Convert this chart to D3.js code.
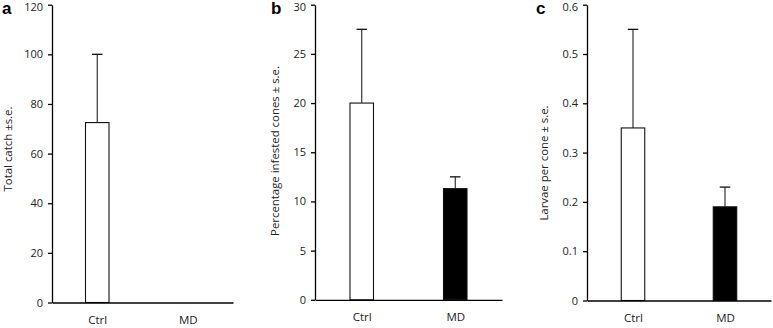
<!DOCTYPE html>
<html>
<head>
<meta charset="utf-8">
<script src="https://cdn.jsdelivr.net/npm/d3@7"></script>
<style>
  body { margin: 0; background: #fff; }
  svg { display: block; }
  .tick text { font-family: "Open Sans", sans-serif; font-size: 11px; fill: #222; }
  .x-axis .tick text { font-size: 11.5px; }
  .ylab { font-family: "Open Sans", sans-serif; font-size: 11.4px; fill: #222; }
  .plab { font-family: "Liberation Sans", Arial, sans-serif; font-size: 17px; font-weight: bold; fill: #000; }
</style>
</head>
<body>
<div id="chart"></div>
<script>
var categories = ["Ctrl", "MD"];

// panel a: total catch
var catchMean = [72.5, null];
var catchSE = [27.5, null];
var catchTicks = [0, 20, 40, 60, 80, 100, 120];

// panel b: percentage infested cones
var infestedMean = [20, 11.3];
var infestedSE = [7.5, 1.2];
var infestedTicks = [0, 5, 10, 15, 20, 25, 30];

// panel c: larvae per cone
var larvaeMean = [0.35, 0.19];
var larvaeSE = [0.2, 0.04];
var larvaeTicks = [0, 0.1, 0.2, 0.3, 0.4, 0.5, 0.6];

var fills = ["#fff", "#000"];

var width = 773, height = 328;
var svg = d3.select("#chart").append("svg")
    .attr("width", width)
    .attr("height", height);

var panels = [
    {letter: "a", mean: catchMean, se: catchSE, ticks: catchTicks, label: "Total catch \u00b1s.e.",
     x0: 52, x1: 233, y0: 302.5, yTop: 4.7, letterX: 2, labX: 11.5, labY: 149},
    {letter: "b", mean: infestedMean, se: infestedSE, ticks: infestedTicks, label: "Percentage infested cones \u00b1 s.e.",
     x0: 315, x1: 502, y0: 299.8, yTop: 4.7, letterX: 271, labX: 279, labY: 151},
    {letter: "c", mean: larvaeMean, se: larvaeSE, ticks: larvaeTicks, label: "Larvae per cone \u00b1 s.e.",
     x0: 587, x1: 771, y0: 300.5, yTop: 4.7, letterX: 536, labX: 548, labY: 163}
];

var barWidth = 23.5;
var capWidth = 10.5;

panels.forEach(function(p) {
    var yScale = d3.scaleLinear()
        .domain([p.ticks[0], p.ticks[p.ticks.length - 1]])
        .range([p.y0, p.yTop]);

    var xScale = d3.scalePoint()
        .domain(categories)
        .range([p.x0, p.x1])
        .padding(0.5);

    var g = svg.append("g");

    var rows = categories.map(function(c, i) {
        return {cat: c, mean: p.mean[i], se: p.se[i], fill: fills[i]};
    }).filter(function(d) { return d.mean !== null; });

    // error bars (upper only)
    g.selectAll(".stem").data(rows).enter().append("line")
        .attr("x1", function(d) { return xScale(d.cat); })
        .attr("x2", function(d) { return xScale(d.cat); })
        .attr("y1", function(d) { return yScale(d.mean); })
        .attr("y2", function(d) { return yScale(d.mean + d.se); })
        .attr("stroke", "#222")
        .attr("stroke-width", 1.1);

    g.selectAll(".cap").data(rows).enter().append("line")
        .attr("x1", function(d) { return xScale(d.cat) - capWidth / 2; })
        .attr("x2", function(d) { return xScale(d.cat) + capWidth / 2; })
        .attr("y1", function(d) { return yScale(d.mean + d.se); })
        .attr("y2", function(d) { return yScale(d.mean + d.se); })
        .attr("stroke", "#111")
        .attr("stroke-width", 1.3);

    // bars
    g.selectAll(".bar").data(rows).enter().append("rect")
        .attr("x", function(d) { return xScale(d.cat) - barWidth / 2; })
        .attr("y", function(d) { return yScale(d.mean); })
        .attr("width", barWidth)
        .attr("height", function(d) { return p.y0 - yScale(d.mean); })
        .attr("fill", function(d) { return d.fill; })
        .attr("stroke", "#111")
        .attr("stroke-width", 1.1);

    // y axis
    var yAxis = g.append("g")
        .attr("class", "y-axis")
        .attr("transform", "translate(" + p.x0 + ",0)")
        .call(d3.axisLeft(yScale).tickValues(p.ticks).tickSize(4).tickSizeOuter(0).tickPadding(5)
            .tickFormat(d3.format("~g")));
    yAxis.selectAll("path, line").attr("stroke", "#000").attr("stroke-width", 1.3);
    // keep the top label inside the picture
    yAxis.selectAll(".tick text").filter(function(d) { return d === p.ticks[p.ticks.length - 1]; })
        .attr("dy", "0.5em");

    // x axis
    var xAxis = g.append("g")
        .attr("class", "x-axis")
        .attr("transform", "translate(0," + p.y0 + ")")
        .call(d3.axisBottom(xScale).tickSize(0).tickSizeOuter(0).tickPadding(13));
    xAxis.select(".domain").attr("stroke", "#000").attr("stroke-width", 1.3);

    // y label
    svg.append("text")
        .attr("class", "ylab")
        .attr("transform", "translate(" + p.labX + "," + p.labY + ") rotate(-90)")
        .style("text-anchor", "middle")
        .text(p.label);

    // panel letter
    svg.append("text")
        .attr("class", "plab")
        .attr("x", p.letterX)
        .attr("y", 14)
        .text(p.letter);
});
</script>
</body>
</html>
